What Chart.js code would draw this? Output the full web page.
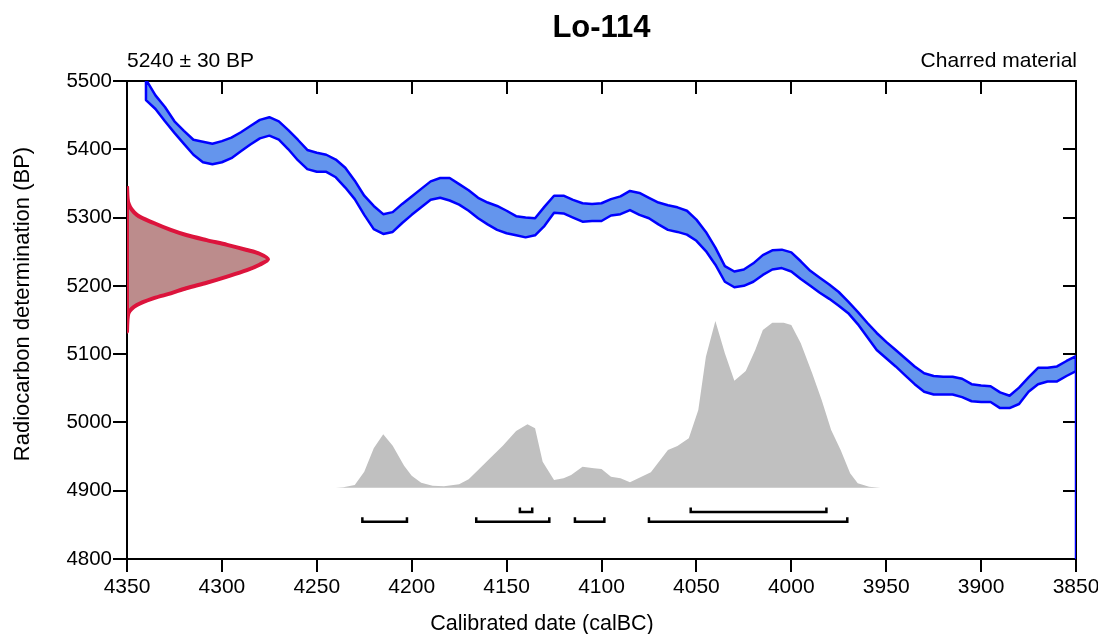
<!DOCTYPE html>
<html>
<head>
<meta charset="utf-8">
<script src="https://cdn.jsdelivr.net/npm/chart.js@4/dist/chart.umd.min.js"></script>
<style>
  html, body { margin: 0; padding: 0; background: #fff; }
  canvas { display: block; }
</style>
</head>
<body>
<canvas id="c" width="1098" height="634"></canvas>
<script>
// ---------------- DATA ----------------
const titleText = 'Lo-114';
const dateLabel = '5240 \u00b1 30 BP';
const materialLabel = 'Charred material';
const xAxisTitle = 'Calibrated date (calBC)';
const yAxisTitle = 'Radiocarbon determination (BP)';

const xTicks = [4350, 4300, 4250, 4200, 4150, 4100, 4050, 4000, 3950, 3900, 3850];
const yTicks = [4800, 4900, 5000, 5100, 5200, 5300, 5400, 5500];

// Calibration curve (upper / lower 1-sigma envelope, BP) by calendar year (calBC)
const calYears = [4340,4335,4330,4325,4320,4315,4310,4305,4300,4295,4290,4285,4280,4275,4270,4265,4260,4255,4250,4245,4240,4235,4230,4225,4220,4215,4210,4205,4200,4195,4190,4185,4180,4175,4170,4165,4160,4155,4150,4145,4140,4135,4130,4125,4120,4115,4110,4105,4100,4095,4090,4085,4080,4075,4070,4065,4060,4055,4050,4045,4040,4035,4030,4025,4020,4015,4010,4005,4000,3995,3990,3985,3980,3975,3970,3965,3960,3955,3950,3945,3940,3935,3930,3925,3920,3915,3910,3905,3900,3895,3890,3885,3880,3875,3870,3865,3860,3855,3850];
const calUpper = [5502,5479,5462,5441,5427,5414,5411,5408,5412,5417,5425,5434,5443,5447,5441,5428,5414,5399,5395,5392,5385,5373,5354,5332,5317,5305,5308,5320,5331,5342,5353,5358,5358,5349,5340,5329,5322,5317,5310,5302,5300,5299,5316,5332,5332,5326,5321,5320,5321,5327,5331,5339,5336,5329,5322,5318,5315,5310,5297,5279,5256,5229,5221,5224,5233,5245,5252,5253,5249,5236,5222,5212,5202,5191,5177,5162,5146,5131,5118,5106,5094,5082,5072,5068,5067,5067,5064,5056,5054,5053,5044,5039,5051,5066,5080,5080,5082,5090,5097];
const calLower = [5472,5459,5441,5424,5408,5392,5381,5378,5381,5387,5397,5407,5416,5420,5414,5400,5384,5371,5367,5367,5359,5344,5327,5304,5283,5276,5279,5292,5304,5315,5326,5329,5325,5319,5310,5299,5290,5282,5277,5274,5271,5274,5288,5307,5306,5300,5294,5295,5295,5303,5305,5311,5304,5299,5290,5282,5279,5275,5266,5251,5231,5206,5198,5200,5206,5216,5224,5226,5221,5210,5200,5190,5181,5171,5160,5144,5125,5106,5094,5082,5069,5056,5045,5041,5041,5041,5037,5031,5030,5030,5021,5021,5027,5045,5056,5060,5060,5068,5075];
// closing edge of the curve at the right border
const curveEdgeYears = [3850, 3850];
const curveEdgeBP = [5097, 4800];

// Radiocarbon date distribution (relative density) by BP
const dateBP = [5346,5321,5304,5292,5282,5274.5,5267,5260,5252.5,5247,5239,5231,5223,5213.5,5204.5,5196.5,5189,5182,5172,5160,5134];
const dateDensity = [0,0.01,0.07,0.19,0.31,0.42,0.565,0.71,0.85,0.94,1,0.94,0.85,0.71,0.565,0.42,0.31,0.19,0.07,0.01,0];

// Calibrated (posterior) distribution, relative probability by calBC year
const postYears = [4240,4236,4230,4225,4220,4215,4210,4204,4200,4195,4189,4183,4175,4170,4165,4159,4152,4145,4139,4135,4131,4125,4120,4116,4110,4104,4100,4095,4090,4085,4074,4065,4060,4054,4049,4045,4040,4035,4030,4024,4019,4015,4010,4004,4000,3995,3989,3984,3979,3974,3969,3965,3959,3953];
const postProb = [0,0.002,0.016,0.096,0.236,0.320,0.251,0.132,0.072,0.030,0.012,0.008,0.020,0.050,0.106,0.174,0.251,0.340,0.380,0.356,0.156,0.046,0.056,0.076,0.126,0.116,0.112,0.066,0.056,0.032,0.092,0.226,0.250,0.296,0.465,0.784,0.998,0.805,0.641,0.699,0.825,0.944,0.988,0.988,0.974,0.865,0.685,0.525,0.346,0.226,0.086,0.026,0.006,0];

// Highest posterior density ranges (calBC)
const hpd68From = [4143, 4053];
const hpd68To   = [4136.5, 3981.5];
const hpd95From = [4226, 4166, 4114, 4075];
const hpd95To   = [4202.5, 4127.5, 4098.5, 3970.5];

// ---------------- BUILD ----------------
const FONT = "'Liberation Sans', Arial, Helvetica, sans-serif";
Chart.defaults.font.family = FONT;
Chart.defaults.font.size = 21;
Chart.defaults.color = '#000';

const bandPts = [];
calYears.forEach((yr, i) => bandPts.push({x: yr, y: calUpper[i]}));
for (let i = calYears.length - 1; i >= 0; i--) bandPts.push({x: calYears[i], y: calLower[i]});
bandPts.push({x: calYears[0], y: calUpper[0]});

const edgePts = curveEdgeYears.map((yr, i) => ({x: yr, y: curveEdgeBP[i]}));

const datePts = dateBP.map((bp, i) => ({x: dateDensity[i], y: bp}));
datePts.push({x: dateDensity[0], y: dateBP[0]});

const postPts = postYears.map((yr, i) => ({x: yr, y: postProb[i]}));

const ROW68 = 4869, ROW95 = 4854.6, TICKUP = 6.5;
function bracket(from, to, lvl) {
  return {
    type: 'line',
    data: [{x: from, y: lvl + TICKUP}, {x: from, y: lvl}, {x: to, y: lvl}, {x: to, y: lvl + TICKUP}],
    borderColor: '#000', borderWidth: 2.5, pointRadius: 0, fill: false, tension: 0,
    borderJoinStyle: 'miter', borderCapStyle: 'butt'
  };
}
const bracketSets = [];
hpd68From.forEach((f, i) => bracketSets.push(bracket(f, hpd68To[i], ROW68)));
hpd95From.forEach((f, i) => bracketSets.push(bracket(f, hpd95To[i], ROW95)));

const datasets = [
  ...bracketSets,
  { data: edgePts, borderColor: '#0000FF', borderWidth: 2.5, pointRadius: 0, fill: false },
  { data: bandPts, borderColor: '#0000FF', backgroundColor: '#6495ED', borderWidth: 2.5,
    pointRadius: 0, fill: 'shape', tension: 0, borderJoinStyle: 'round' },
  { data: datePts, xAxisID: 'xProb', borderColor: '#DC143C', backgroundColor: 'rgb(188,140,140)',
    borderWidth: 4, pointRadius: 0, fill: 'shape', tension: 0.3, borderJoinStyle: 'round' },
  { data: postPts, yAxisID: 'yProb', borderColor: 'rgba(0,0,0,0)', backgroundColor: '#C0C0C0',
    borderWidth: 0.01, pointRadius: 0, fill: 'origin', tension: 0 }
];

const framePlugin = {
  id: 'frameAndText',
  beforeDatasetsDraw(chart) {
    const {ctx, chartArea: a, scales} = chart;
    const x = scales.x, y = scales.y;
    ctx.save();
    ctx.strokeStyle = '#000';
    ctx.lineWidth = 2;
    ctx.lineCap = 'butt';
    ctx.beginPath();
    ctx.moveTo(a.left, a.top); ctx.lineTo(a.right, a.top); ctx.lineTo(a.right, a.bottom);
    x.ticks.forEach(t => { const px = Math.round(x.getPixelForValue(t.value)); ctx.moveTo(px, a.top); ctx.lineTo(px, a.top + 13); });
    y.ticks.forEach(t => { const py = Math.round(y.getPixelForValue(t.value)); ctx.moveTo(a.right, py); ctx.lineTo(a.right - 13, py); });
    ctx.stroke();
    ctx.restore();
  },
  afterDraw(chart) {
    const {ctx, chartArea: a} = chart;
    ctx.save();
    ctx.fillStyle = '#000';
    ctx.textBaseline = 'alphabetic';
    ctx.font = 'bold 31px ' + FONT;
    ctx.textAlign = 'center';
    ctx.fillText(titleText, (a.left + a.right) / 2, 37);
    ctx.font = '21px ' + FONT;
    ctx.textAlign = 'left';
    ctx.fillText(dateLabel, a.left, 67);
    ctx.textAlign = 'right';
    ctx.fillText(materialLabel, a.right + 1, 67);
    // axis titles
    ctx.font = '21.5px ' + FONT;
    ctx.textAlign = 'center';
    ctx.fillText(xAxisTitle, 542, 630);
    ctx.translate(29, 304);
    ctx.rotate(-Math.PI / 2);
    ctx.font = '22px ' + FONT;
    ctx.fillText(yAxisTitle, 0, 0);
    ctx.restore();
  }
};

new Chart(document.getElementById('c'), {
  type: 'line',
  data: { datasets },
  plugins: [framePlugin],
  options: {
    responsive: false,
    devicePixelRatio: 1,
    animation: false,
    events: [],
    layout: { padding: { top: 81, right: 22, left: 0, bottom: 0 } },
    plugins: { legend: { display: false }, tooltip: { enabled: false }, title: { display: false } },
    elements: { point: { radius: 0 } },
    scales: {
      x: {
        type: 'linear', position: 'bottom', min: 3850, max: 4350, reverse: true,
        afterBuildTicks: s => { s.ticks = xTicks.map(v => ({value: v})); },
        afterFit: s => { s.height = 75; s.paddingLeft = 0; s.paddingRight = 0; },
        ticks: { callback: v => String(v), padding: 3, maxRotation: 0, autoSkip: false, font: { size: 21 } },
        grid: { drawOnChartArea: false, drawTicks: true, tickLength: 13, color: '#000', lineWidth: 2 },
        border: { display: true, color: '#000', width: 2 },
        title: { display: false }
      },
      y: {
        type: 'linear', position: 'left', min: 4800, max: 5500,
        afterBuildTicks: s => { s.ticks = yTicks.map(v => ({value: v})); },
        afterFit: s => { s.width = 127; s.paddingTop = 0; s.paddingBottom = 0; },
        ticks: { callback: v => String(v), padding: 1, autoSkip: false, font: { size: 20.5 } },
        grid: { drawOnChartArea: false, drawTicks: true, tickLength: 14, color: '#000', lineWidth: 2 },
        border: { display: true, color: '#000', width: 2 },
        title: { display: false }
      },
      xProb: { type: 'linear', display: false, min: 0, max: 6.73, position: 'bottom' },
      yProb: { type: 'linear', display: false, min: -0.4269, max: 2.4353, position: 'left' }
    }
  }
});
</script>
</body>
</html>
